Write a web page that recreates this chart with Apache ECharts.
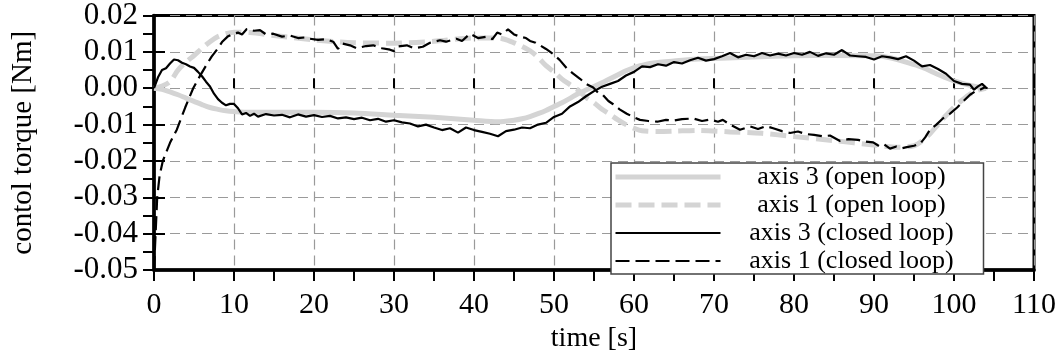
<!DOCTYPE html>
<html>
<head>
<meta charset="utf-8">
<script src="https://cdn.jsdelivr.net/npm/echarts@6/dist/echarts.min.js"></script>
<style>html,body{margin:0;padding:0;background:#fff}#c{width:1064px;height:358px}</style>
</head>
<body>
<div id="c"></div>
<script>
// ---- data ----
var seriesNames = ['axis 3 (open loop)', 'axis 1 (open loop)', 'axis 3 (closed loop)', 'axis 1 (closed loop)'];
var xTicks = [0, 10, 20, 30, 40, 50, 60, 70, 80, 90, 100, 110];
var yTicks = [-0.05, -0.04, -0.03, -0.02, -0.01, 0.00, 0.01, 0.02];

var tOpen3 = [0,1,2,3,4,5,6,7,8,9,10,12,15,20,25,30,35,40,43,45,46,47,48,49,50,51,52,53,54,55,56,57,58,59,60,61,62,63,65,67,70,75,80,85,90,92,94,96,98,100,102,104];
var vOpen3 = [0,-0.0003,-0.0010,-0.0018,-0.0027,-0.0036,-0.0045,-0.0053,-0.0058,-0.0062,-0.0064,-0.0066,-0.0066,-0.0066,-0.0068,-0.0074,-0.0080,-0.0088,-0.0092,-0.0088,-0.0084,-0.0078,-0.0070,-0.0061,-0.0050,-0.0040,-0.0028,-0.0015,-0.0005,0.0005,0.0015,0.0026,0.0037,0.0048,0.0057,0.0063,0.0068,0.0071,0.0075,0.0079,0.0082,0.0086,0.0089,0.0090,0.0089,0.0084,0.0072,0.0058,0.0038,0.0020,0.0008,0.0];

var tOpen1 = [0,1,2,3,4,5,6,7,8,9,10,12,15,20,25,30,35,40,43,45,46,47,48,49,50,51,52,53,54,55,56,57,58,59,60,61,63,65,68,72,76,80,85,90,93,95,96,97,98,99,100,101,102,103,104];
var vOpen1 = [0,0.0006,0.0018,0.0050,0.0072,0.0090,0.0110,0.0128,0.0142,0.0150,0.0154,0.0153,0.0145,0.0133,0.0125,0.0124,0.0129,0.0138,0.0138,0.0125,0.0115,0.0103,0.0085,0.0062,0.0045,0.0025,0.0010,-0.0005,-0.0025,-0.0040,-0.0058,-0.0072,-0.0087,-0.0100,-0.0110,-0.0117,-0.0119,-0.0118,-0.0116,-0.0120,-0.0124,-0.0133,-0.0144,-0.0156,-0.0162,-0.0158,-0.0145,-0.0125,-0.0100,-0.0075,-0.0052,-0.0033,-0.0016,-0.0005,0];

var tClosed3 = [0,0.5,1,1.5,2,2.5,3,3.5,4,4.5,5,5.5,6,6.5,7,7.5,8,8.5,9,9.5,10,10.5,11,11.5,12,12.5,13,14,15,16,17,18,19,20,21,22,23,24,25,26,27,28,29,30,31,32,33,34,35,36,37,38,39,40,41,42,43,44,45,46,47,48,49,50,51,52,53,54,55,56,57,58,59,60,61,62,63,64,65,66,67,68,69,70,71,72,73,74,75,76,77,78,79,80,81,82,83,84,85,86,87,88,89,90,91,92,93,94,95,96,97,98,99,100,101,102,102.5,103,103.5,104];
var vClosed3 = [0,0.0030,0.0050,0.0055,0.0068,0.0079,0.0077,0.0070,0.0066,0.0060,0.0056,0.0045,0.0033,0.0018,0.0005,-0.0015,-0.0030,-0.0040,-0.0047,-0.0043,-0.0043,-0.0055,-0.0072,-0.0068,-0.0076,-0.0070,-0.0078,-0.0071,-0.0075,-0.0073,-0.0080,-0.0072,-0.0078,-0.0074,-0.0079,-0.0076,-0.0083,-0.0080,-0.0085,-0.0081,-0.0088,-0.0084,-0.0092,-0.0088,-0.0094,-0.0097,-0.0105,-0.0100,-0.0108,-0.0115,-0.0110,-0.0122,-0.0108,-0.0115,-0.0120,-0.0125,-0.0132,-0.0118,-0.0114,-0.0108,-0.0110,-0.0100,-0.0095,-0.0079,-0.0070,-0.0050,-0.0038,-0.0022,-0.0008,0.0004,0.0012,0.0020,0.0035,0.0045,0.0060,0.0058,0.0066,0.0062,0.0072,0.0068,0.0077,0.0084,0.0076,0.0080,0.0088,0.0097,0.0085,0.0092,0.0088,0.0097,0.0090,0.0095,0.0090,0.0097,0.0092,0.0100,0.0089,0.0096,0.0092,0.0105,0.0090,0.0088,0.0086,0.0079,0.0088,0.0085,0.0080,0.0088,0.0076,0.0060,0.0064,0.0053,0.0040,0.0020,0.0012,0.0010,-0.0004,0.0005,0.0012,0.0002];

var tClosed1 = [0,0.2,0.4,0.7,1.1,2,2.85,3.9,4.9,5.75,6.5,7.2,8,8.5,9.2,9.9,10.5,11,11.6,12.5,13.25,14,14.9,16,17,18,19,19.5,20.5,21.5,22.4,23,23.5,24.5,25.3,26.5,27.4,28.5,29.5,30,30.5,31.6,32.5,33.6,34.5,35.75,36.5,37.8,38.5,39.5,40.5,41.6,42.3,42.9,43.5,44.25,45,45.75,46.5,47,47.7,48.25,49,49.9,50.7,51.6,52.4,53.25,54,54.9,55.5,56.1,56.8,57.4,58.2,59.1,60,60.75,61.8,62.9,64,64.9,66,67.4,68.5,69.5,70.5,71.1,72,73.25,74.5,75.5,76.5,77.4,78.5,79.5,80.5,81.5,82.5,83.6,84.5,85.75,86.8,88,89,89.9,90.7,91.3,92,92.8,93.5,94.1,95,95.75,96.4,97,97.8,98.6,99.5,100.4,101.2,102,102.7,103.25,103.8,104.2];
var vClosed1 = [-0.050,-0.040,-0.030,-0.024,-0.020,-0.015,-0.0114,-0.0053,0.0,0.0034,0.0062,0.0087,0.0110,0.0127,0.0142,0.0150,0.0153,0.0148,0.0163,0.0158,0.0160,0.0148,0.0150,0.0142,0.0145,0.0138,0.0140,0.0136,0.0133,0.0135,0.0128,0.0108,0.0123,0.0118,0.0110,0.0116,0.0118,0.0110,0.0106,0.0102,0.0115,0.0118,0.0110,0.0114,0.0125,0.0132,0.0128,0.0136,0.0130,0.0150,0.0138,0.0142,0.0135,0.0153,0.0148,0.0162,0.0148,0.0142,0.0138,0.0130,0.0125,0.0118,0.0108,0.0094,0.0078,0.0055,0.0040,0.0026,0.0012,0.0002,-0.0012,-0.0018,-0.0035,-0.0044,-0.0058,-0.0070,-0.0080,-0.0087,-0.0090,-0.0092,-0.0087,-0.0089,-0.0085,-0.0083,-0.0090,-0.0086,-0.0092,-0.0087,-0.0100,-0.0114,-0.0105,-0.0112,-0.0104,-0.0110,-0.0118,-0.0123,-0.0119,-0.0126,-0.0128,-0.0132,-0.0130,-0.0145,-0.0140,-0.0142,-0.0147,-0.0149,-0.0160,-0.0155,-0.0166,-0.0160,-0.0165,-0.0162,-0.0158,-0.0153,-0.0135,-0.0114,-0.0100,-0.0083,-0.0070,-0.0053,-0.0035,-0.0018,-0.0008,-0.0004,0.0002,0.0];

function zip(t, v) { return t.map(function (x, i) { return [x, v[i]]; }); }

var FONT = 'Liberation Serif';
var GRAY = '#d4d4d4';
var lineStyles = [
  { color: GRAY, width: 5, type: 'solid' },
  { color: GRAY, width: 5, type: [16, 7] },
  { color: '#000', width: 2.2, type: 'solid' },
  { color: '#000', width: 2.2, type: [14, 6] }
];

var chart = echarts.init(document.getElementById('c'), null, { renderer: 'canvas' });
var option = {
  animation: false,
  backgroundColor: '#fff',
  textStyle: { fontFamily: FONT, color: '#000' },
  grid: { left: 154, right: 30, top: 14, bottom: 78, show: true, borderColor: '#000', borderWidth: 3, backgroundColor: 'transparent' },
  legend: {
    orient: 'vertical', left: 611, top: 163,
    data: seriesNames.map(function (n, i) {
      return { name: n, itemStyle: { opacity: 0 }, lineStyle: lineStyles[i] };
    }),
    itemWidth: 105, itemHeight: 14, itemGap: 2,
    padding: [1, 6, 0, 2],
    backgroundColor: '#fff', borderColor: '#444', borderWidth: 1.5, borderRadius: 0,
    formatter: function (n) { return '{c|' + n + '}'; },
    textStyle: {
      fontFamily: FONT, color: '#000', fontSize: 26, lineHeight: 26,
      rich: { c: { width: 252, align: 'center', fontSize: 26, lineHeight: 26, height: 26, fontFamily: FONT, color: '#000' } }
    },
    z: 20
  },
  xAxis: [{
    type: 'value', min: 0, max: 110, interval: 10, position: 'bottom',
    name: 'time [s]', nameLocation: 'middle', nameGap: 48,
    nameTextStyle: { fontFamily: FONT, fontSize: 28, color: '#000' },
    axisLine: { show: true, onZero: false, lineStyle: { color: '#000', width: 3.5 } },
    axisTick: { show: true, inside: false, length: 11, lineStyle: { color: '#000', width: 2 } },
    minorTick: { show: true, splitNumber: 2, length: 11, lineStyle: { color: '#000', width: 2 } },
    axisLabel: { margin: 20, fontFamily: FONT, fontSize: 30, color: '#000', formatter: function (v) { return String(Math.round(v)); } },
    splitLine: { show: true, lineStyle: { color: '#9a9a9a', width: 1.2, type: [10, 6] } }
  }, {
    type: 'value', min: 0, max: 110, interval: 10, position: 'bottom',
    axisLine: { show: false },
    axisTick: { show: true, inside: true, length: 10, lineStyle: { color: '#000', width: 2 } },
    axisLabel: { show: false }, splitLine: { show: false }
  }],
  yAxis: [{
    type: 'value', min: -0.05, max: 0.02, interval: 0.01, position: 'left',
    name: 'contol torque [Nm]', nameLocation: 'middle', nameGap: 116, nameRotate: 90,
    nameTextStyle: { fontFamily: FONT, fontSize: 29, color: '#000' },
    axisLine: { show: true, onZero: false, lineStyle: { color: '#000', width: 3.5 } },
    axisTick: { show: true, inside: false, length: 11, lineStyle: { color: '#000', width: 2 } },
    minorTick: { show: true, splitNumber: 2, length: 11, lineStyle: { color: '#000', width: 2 } },
    axisLabel: { margin: 16, fontFamily: FONT, fontSize: 31, color: '#000', formatter: function (v) { var r = Math.round(v * 100) / 100; return (r === 0 ? 0 : r).toFixed(2); } },
    splitLine: { show: true, lineStyle: { color: '#9a9a9a', width: 1.2, type: [10, 6] } }
  }, {
    type: 'value', min: -0.05, max: 0.02, interval: 0.01, position: 'left',
    axisLine: { show: false },
    axisTick: { show: true, inside: true, length: 11, lineStyle: { color: '#000', width: 2 } },
    axisLabel: { show: false }, splitLine: { show: false }
  }],
  series: [
    { name: seriesNames[0], type: 'line', data: zip(tOpen3, vOpen3), symbol: 'none', smooth: 0.3, z: 2,
      lineStyle: lineStyles[0], itemStyle: { color: GRAY } },
    { name: seriesNames[1], type: 'line', data: zip(tOpen1, vOpen1), symbol: 'none', smooth: 0.3, z: 2,
      lineStyle: lineStyles[1], itemStyle: { color: GRAY } },
    { name: seriesNames[2], type: 'line', data: zip(tClosed3, vClosed3), symbol: 'none', z: 3,
      lineStyle: lineStyles[2], itemStyle: { color: '#000' } },
    { name: seriesNames[3], type: 'line', data: zip(tClosed1, vClosed1), symbol: 'none', z: 3,
      lineStyle: lineStyles[3], itemStyle: { color: '#000' } }
  ]
};
chart.setOption(option);
</script>
</body>
</html>
